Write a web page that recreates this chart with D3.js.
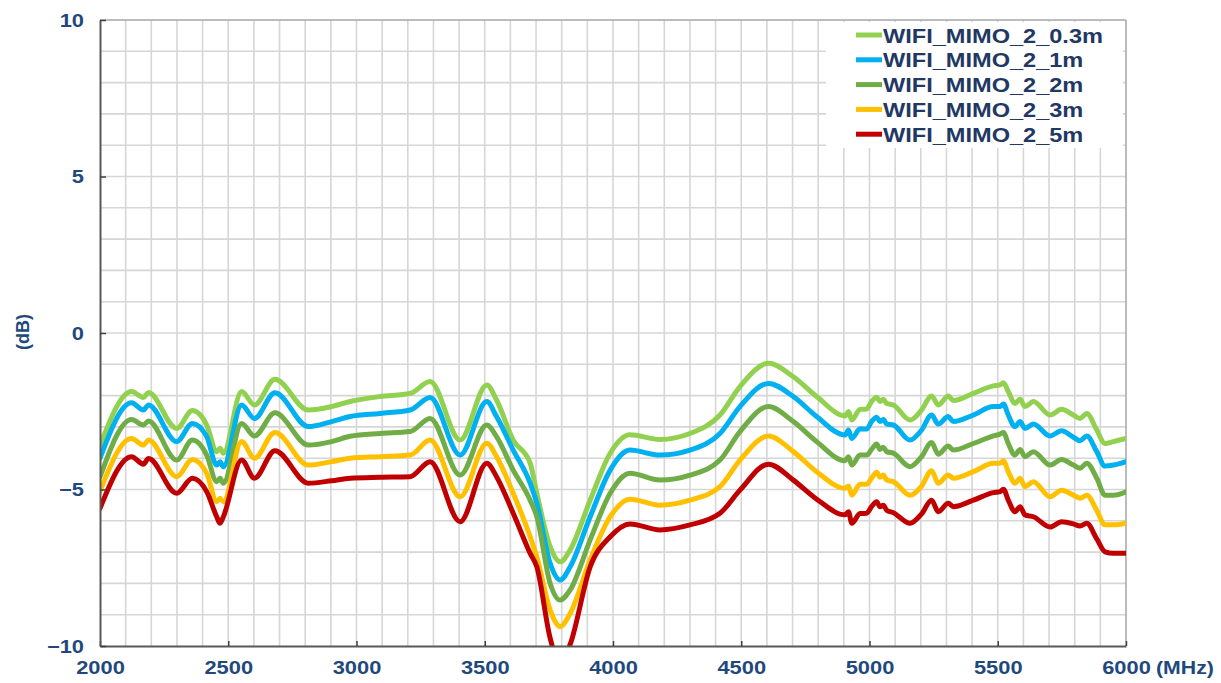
<!DOCTYPE html>
<html>
<head>
<meta charset="utf-8">
<script src="https://cdn.jsdelivr.net/npm/d3@7"></script>
<style>
  html, body { margin: 0; padding: 0; background: #ffffff; }
  svg { display: block; }
  text { font-family: "Liberation Sans", Arial, sans-serif; font-weight: bold; }
</style>
</head>
<body>
<svg id="chart" width="1221" height="683"></svg>
<script>
// Frequency sample points (MHz)
const freqMHz = [2000, 2123, 2169, 2189, 2299, 2360, 2416, 2455, 2468, 2481, 2552, 2602, 2682, 2812, 2903, 2975, 3092, 3209, 3287, 3404,
  3508, 3546, 3611, 3677, 3703, 3755, 3794, 3833, 3911, 3989, 4066, 4183, 4300, 4417, 4495, 4606, 4703, 4794, 4905, 4918,
  4931, 4963, 4989, 5008, 5028, 5041, 5054, 5067, 5093, 5158, 5203, 5242, 5268, 5307, 5327, 5405, 5483, 5509, 5522, 5541,
  5567, 5587, 5606, 5639, 5704, 5749, 5795, 5821, 5847, 5886, 5918, 5951, 6000];

// Measured level (dB) per distance
const mimo_0_3m = [-3.60, -1.87, -2.06, -1.90, -3.05, -2.48, -2.94, -3.79, -3.68, -3.84, -1.87, -2.30, -1.48, -2.46, -2.35, -2.19, -2.03, -1.93, -1.55, -3.42,
  -1.66, -2.14, -3.42, -4.16, -5.12, -6.83, -7.31, -6.93, -5.34, -3.84, -3.25, -3.40, -3.21, -2.62, -1.71, -0.97, -1.40, -2.03, -2.65, -2.51,
  -2.78, -2.44, -2.43, -2.19, -2.05, -2.19, -2.12, -2.25, -2.30, -2.78, -2.46, -2.01, -2.30, -2.01, -2.16, -1.93, -1.69, -1.66, -1.59, -1.87,
  -2.25, -2.12, -2.35, -2.19, -2.62, -2.44, -2.62, -2.73, -2.57, -3.10, -3.53, -3.47, -3.37];

const mimo_1m = [-4.00, -2.23, -2.46, -2.30, -3.47, -2.89, -3.31, -4.22, -4.11, -4.27, -2.30, -2.73, -1.91, -2.99, -2.83, -2.67, -2.57, -2.46, -2.06, -3.90,
  -2.19, -2.67, -3.74, -4.80, -5.44, -7.36, -7.89, -7.47, -5.87, -4.38, -3.74, -3.90, -3.74, -3.21, -2.35, -1.61, -2.03, -2.67, -3.26, -3.10,
  -3.37, -3.06, -3.07, -2.83, -2.69, -2.83, -2.76, -2.91, -2.94, -3.42, -3.10, -2.62, -2.91, -2.67, -2.83, -2.62, -2.35, -2.35, -2.27, -2.62,
  -2.99, -2.83, -3.05, -2.91, -3.29, -3.12, -3.33, -3.44, -3.29, -3.79, -4.25, -4.22, -4.11];

const mimo_2m = [-4.60, -2.76, -2.94, -2.81, -4.06, -3.42, -3.90, -4.75, -4.64, -4.80, -2.89, -3.29, -2.55, -3.58, -3.47, -3.30, -3.21, -3.15, -2.73, -4.54,
  -2.94, -3.31, -4.38, -5.34, -5.87, -8.00, -8.53, -8.21, -6.61, -5.12, -4.48, -4.70, -4.54, -4.06, -3.15, -2.35, -2.83, -3.47, -4.08, -3.95,
  -4.22, -3.90, -3.90, -3.72, -3.55, -3.72, -3.65, -3.79, -3.84, -4.27, -3.95, -3.50, -3.87, -3.61, -3.74, -3.53, -3.29, -3.23, -3.18, -3.53,
  -3.90, -3.72, -3.95, -3.79, -4.22, -4.04, -4.22, -4.32, -4.16, -4.64, -5.18, -5.18, -5.07];

const mimo_3m = [-5.05, -3.37, -3.58, -3.42, -4.59, -4.04, -4.48, -5.39, -5.28, -5.39, -3.47, -4.00, -3.18, -4.22, -4.11, -4.00, -3.95, -3.90, -3.42, -5.23,
  -3.52, -3.95, -5.12, -6.51, -7.15, -8.85, -9.38, -8.96, -7.25, -5.87, -5.31, -5.50, -5.34, -4.91, -4.06, -3.29, -3.79, -4.43, -4.96, -4.89,
  -5.18, -4.83, -4.83, -4.64, -4.45, -4.61, -4.54, -4.70, -4.75, -5.18, -4.89, -4.40, -4.80, -4.54, -4.64, -4.43, -4.16, -4.16, -4.08, -4.43,
  -4.80, -4.64, -4.91, -4.75, -5.23, -5.02, -5.18, -5.28, -5.18, -5.67, -6.13, -6.13, -6.08];

const mimo_5m = [-5.60, -3.95, -4.19, -4.01, -5.12, -4.64, -5.07, -5.87, -6.08, -5.87, -4.06, -4.64, -3.76, -4.80, -4.72, -4.64, -4.61, -4.59, -4.11, -6.03,
  -4.16, -4.59, -5.76, -7.04, -7.47, -9.75, -10.60, -9.95, -7.47, -6.51, -6.10, -6.29, -6.13, -5.76, -5.02, -4.19, -4.70, -5.31, -5.81, -5.71,
  -6.08, -5.77, -5.76, -5.55, -5.39, -5.55, -5.50, -5.66, -5.74, -6.08, -5.78, -5.34, -5.71, -5.44, -5.55, -5.34, -5.10, -5.07, -4.99, -5.34,
  -5.71, -5.55, -5.81, -5.87, -6.20, -6.03, -6.10, -6.17, -6.08, -6.58, -6.99, -7.04, -7.04];

const seriesNames = ["WIFI_MIMO_2_0.3m", "WIFI_MIMO_2_1m", "WIFI_MIMO_2_2m", "WIFI_MIMO_2_3m", "WIFI_MIMO_2_5m"];
const seriesValues = [mimo_0_3m, mimo_1m, mimo_2m, mimo_3m, mimo_5m];
const seriesColors = ["#92D050", "#00B0F0", "#70AD47", "#FFC000", "#C00000"];

const xTickValues = [2000, 2500, 3000, 3500, 4000, 4500, 5000, 5500, 6000];
const yTickValues = [-10, -5, 0, 5, 10];

// Layout
const plot = { left: 100, right: 1126, top: 20, bottom: 646 };
const textStretch = 1.15;
const labelColor = "#1F497D";

const svg = d3.select("#chart");

const x = d3.scaleLinear().domain([2000, 6000]).range([plot.left, plot.right]);
const y = d3.scaleLinear().domain([-10, 10]).range([plot.bottom, plot.top]);

// Grid: every 100 MHz and every 1 dB
const grid = svg.append("g").attr("class", "grid");
grid.selectAll("line.v")
  .data(d3.range(2100, 6000, 100))
  .join("line")
  .attr("x1", d => x(d)).attr("x2", d => x(d))
  .attr("y1", plot.top).attr("y2", plot.bottom)
  .attr("stroke", "#d6d6d6").attr("stroke-width", 1.6);
grid.selectAll("line.h")
  .data(d3.range(-9, 10, 1))
  .join("line")
  .attr("x1", plot.left).attr("x2", plot.right)
  .attr("y1", d => y(d)).attr("y2", d => y(d))
  .attr("stroke", "#d6d6d6").attr("stroke-width", 1.6);

// Top and right frame
svg.append("line")
  .attr("x1", plot.left).attr("x2", plot.right).attr("y1", plot.top).attr("y2", plot.top)
  .attr("stroke", "#a6a6a6").attr("stroke-width", 1.5);
svg.append("line")
  .attr("x1", plot.right).attr("x2", plot.right).attr("y1", plot.top).attr("y2", plot.bottom)
  .attr("stroke", "#a6a6a6").attr("stroke-width", 1.5);

// Legend panel sits above the grid
const legend = svg.append("g").attr("class", "legend");
legend.append("rect")
  .attr("x", 826).attr("y", 22).attr("width", 297).attr("height", 126)
  .attr("fill", "#ffffff");

// Curves
svg.append("clipPath").attr("id", "plot-clip")
  .append("rect")
  .attr("x", plot.left).attr("y", plot.top)
  .attr("width", plot.right - plot.left).attr("height", plot.bottom - plot.top);

const line = d3.line()
  .x(d => x(d[0]))
  .y(d => y(d[1]))
  .curve(d3.curveMonotoneX);

const curves = svg.append("g").attr("clip-path", "url(#plot-clip)");
seriesValues.forEach((vals, i) => {
  curves.append("path")
    .datum(freqMHz.map((f, k) => [f, vals[k]]))
    .attr("fill", "none")
    .attr("stroke", seriesColors[i])
    .attr("stroke-width", 5)
    .attr("stroke-linejoin", "round")
    .attr("stroke-linecap", "round")
    .attr("d", line);
});

// Axes
const xAxis = d3.axisBottom(x)
  .tickValues(xTickValues)
  .tickFormat(d3.format("d"))
  .tickSizeInner(-5)
  .tickSizeOuter(0)
  .tickPadding(15);
const yAxis = d3.axisLeft(y)
  .tickValues(yTickValues)
  .tickFormat(d3.format("d"))
  .tickSizeInner(-6)
  .tickSizeOuter(0)
  .tickPadding(15);

const gx = svg.append("g")
  .attr("transform", `translate(0,${plot.bottom})`)
  .call(xAxis);
const gy = svg.append("g")
  .attr("transform", `translate(${plot.left},0)`)
  .call(yAxis);

[gx, gy].forEach(g => {
  g.select(".domain").attr("stroke", "#595959").attr("stroke-width", 2);
  g.selectAll(".tick line").attr("stroke", "#404040").attr("stroke-width", 1.5);
  g.selectAll(".tick text")
    .attr("fill", labelColor)
    .style("font-family", "'Liberation Sans', Arial, sans-serif")
    .style("font-weight", "bold")
    .style("font-size", "19px")
    .attr("transform", `scale(${textStretch},1)`);
});
gy.selectAll(".tick text").attr("x", -16 / textStretch);

// Axis unit labels
svg.append("text")
  .attr("transform", `translate(1156,674) scale(${textStretch},1)`)
  .attr("fill", labelColor)
  .style("font-size", "18.5px")
  .text("(MHz)");

svg.append("text")
  .attr("transform", "translate(29,332) rotate(-90)")
  .attr("text-anchor", "middle")
  .attr("fill", labelColor)
  .style("font-size", "18px")
  .text("(dB)");

// Legend entries
seriesNames.forEach((name, i) => {
  const cy = 35 + i * 24.8;
  legend.append("line")
    .attr("x1", 856).attr("x2", 882)
    .attr("y1", cy).attr("y2", cy)
    .attr("stroke", seriesColors[i])
    .attr("stroke-width", 5);
  legend.append("text")
    .attr("transform", `translate(883,${cy + 7.5}) scale(${textStretch},1)`)
    .attr("fill", "#1F3864")
    .style("font-size", "20.5px")
    .text(name);
});
</script>
</body>
</html>
